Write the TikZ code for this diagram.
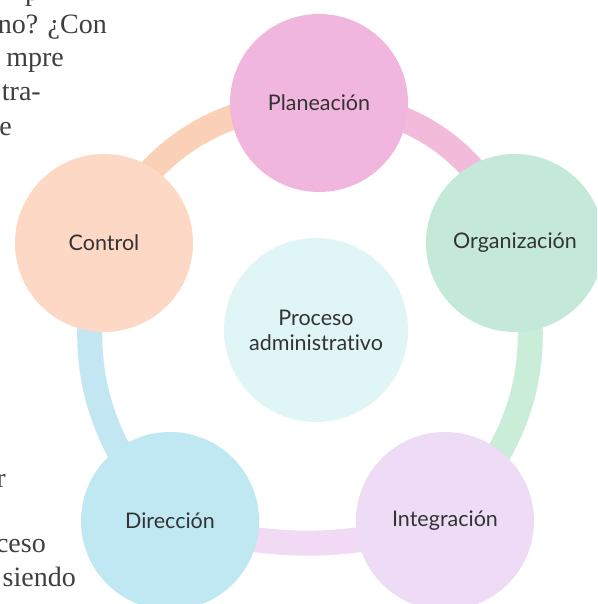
\documentclass[tikz,border=0pt]{standalone}
\usepackage{fontspec}
\setmainfont{Liberation Serif}
\newfontfamily\labelfont[Ligatures={NoCommon}]{Lato}
\usetikzlibrary{backgrounds}
\definecolor{cplan}{HTML}{F1B6DD}
\definecolor{corg}{HTML}{C4E9D9}
\definecolor{cint}{HTML}{EEDBF5}
\definecolor{cdir}{HTML}{BFE8F3}
\definecolor{cctrl}{HTML}{FCD8C5}
\definecolor{ccen}{HTML}{E0F5F5}
\definecolor{bplan}{HTML}{F2BBDA}
\definecolor{borg}{HTML}{C9EDD9}
\definecolor{bint}{HTML}{F1DAF3}
\definecolor{bdir}{HTML}{C2E7F3}
\definecolor{bctrl}{HTML}{FAD0B6}
\definecolor{labeltext}{HTML}{333333}
\definecolor{pagetext}{HTML}{3F3F3F}
\begin{document}
\begin{tikzpicture}[x=1pt,y=1pt,
  stage/.style={circle, minimum size=178pt, inner sep=0pt, text=labeltext,
    font=\labelfont\fontsize{21.5}{25}\selectfont},
  band/.style={line width=25pt},
  pagetxt/.style={inner sep=0pt, text=pagetext, font=\fontsize{28}{32}\selectfont}]
\useasboundingbox (0,0) rectangle (597,604);
\clip (0,0) rectangle (597,604);
% page text fragments
\node[pagetxt, anchor=base west] (t0) at (25,603) {p};
\node[pagetxt, anchor=base east] (t1) at (107,570) {no? ¿Con};
\node[pagetxt, anchor=base east] (t2) at (64,537) {mpre};
\node[pagetxt, anchor=base east] (t3) at (41,503) {tra-};
\node[pagetxt, anchor=base east] (t4) at (12,468) {e};
\node[pagetxt, anchor=base east] (t5) at (6,116) {r};
\node[pagetxt, anchor=base east] (t6) at (46,51) {ceso};
\node[pagetxt, anchor=base east] (t7) at (76,17) {siendo};
% stages
\node[stage, fill=cplan] (plan) at (319,501) {Planeación};
\node[stage, fill=corg] (org) at (515,361) {Organización};
\node[stage, fill=cint] (int) at (445,83) {Integración};
\node[stage, fill=cdir] (dir) at (170,83) {Dirección};
\node[stage, fill=cctrl] (ctrl) at (104,361) {Control};
\node[stage, fill=ccen, minimum size=184pt, align=center] (cen) at (316,274) {Proceso\\administrativo};
\begin{pgfonlayer}{background}
\fill[white] (0,0) rectangle (597,604);
\draw[band, bctrl] (ctrl.center) to[bend left=33] (plan.center);
\draw[band, bplan] (plan.center) to[bend left=35] (org.center);
\draw[band, borg] (org.center) to[bend left=32] (int.center);
\draw[band, bint] (int.center) to[bend left=16] (dir.center);
\draw[band, bdir] (dir.center) to[bend left=30] (ctrl.center);
\end{pgfonlayer}
\end{tikzpicture}
\end{document}
